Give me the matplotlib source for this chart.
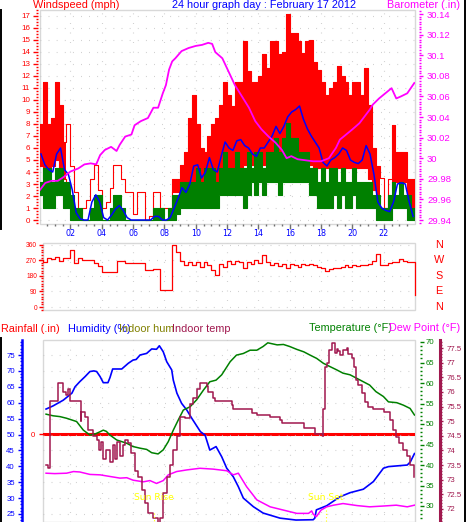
import numpy as np
import matplotlib
matplotlib.use('Agg')
import matplotlib.pyplot as plt
from matplotlib import font_manager
from matplotlib.lines import Line2D
from matplotlib.patches import Rectangle
from matplotlib.transforms import blended_transform_factory
from matplotlib.ticker import FixedLocator, MultipleLocator, FuncFormatter

nan = float('nan')

# ---------------- data ----------------
# wind, 15-minute bins over 24 h (mph)
gust_hi = [8, 11.5, 8, 8.5, 11.5, 9.6, 6.5, 8,
           4.5, 2.3, 0.5, 1, 1.7, 3.4, 4.6, 2.5,
           1, 1.5, 2.7, 4.6, 4.6, 3.4, 2.3, 2.3,
           0.5, 2.3, 2.3, 0, 0.3, 2.3, 2.3, 1,
           1, 1, 3.4, 3.4, 4.6, 5.7, 8.5, 10.4,
           8, 6, 5.7, 7, 8, 8.5, 9.6, 11.5,
           10.4, 9.5, 11.5, 11.5, 14.9, 12.4, 11.5, 11.5,
           12, 13.8, 12.7, 14.9, 14.9, 13.8, 14.0, 17.2,
           15.6, 15.6, 14.9, 13.9, 14.9, 15.0, 13.2, 12.5,
           11.5, 10.4, 11, 11.5, 12.8, 12.0, 11.5, 10.4,
           11.5, 11.5, 10.4, 12.7, 9.6, 6, 4.5, 3.5,
           1, 3.4, 7.9, 5.7, 5.7, 5.7, 3.4, 3.4]
gust_lo = [4.5, 3.4, 4, 4.5, 5, 4, 3.4, 3,
           nan, nan, nan, nan, nan, nan, nan, nan,
           nan, nan, nan, nan, nan, nan, nan, nan,
           nan, nan, nan, nan, nan, nan, nan, nan,
           nan, nan, 2.3, 2.3, 2.3, 2.3, 3.2, 3.2,
           3.2, 3.2, 3.2, 3.2, 3.2, 3.2, 4.0, 4.0,
           4.0, 4.0, 4.0, 4.0, 4.6, 4.6, 4.6, 4.6,
           4.6, 4.6, 4.6, 4.6, 4.6, 4.6, 4.6, 4.6,
           4.6, 4.6, 4.6, 4.6, 4.6, 4.6, 4.3, 4.3,
           4.3, 4.3, 4.3, 4.3, 4.3, 4.3, 4.3, 4.3,
           4.3, 4.3, 4.3, 4.3, 3.4, 2.5, 1.0, 1.0,
           nan, nan, 3.2, 3.2, 3.2, 3.2, 2.1, 0.5]
lull_hi = [3.2, 4.3, 4.3, 3.2, 4.3, 4.3, 3.2, 3.2,
           2.1, 1.0, 1.0, 0, 0, 1.0, 2.1, 2.1,
           0, 0, 1.0, 2.1, 2.1, 1.0, 0, 0,
           0, 0, 0, 0, 0, 1.0, 1.0, 1.0,
           0, 1.0, 2.1, 2.1, 3.2, 3.2, 3.2, 3.2,
           4.3, 3.2, 4.3, 4.3, 4.3, 3.2, 4.3, 5.7,
           4.3, 4.3, 5.7, 4.3, 4.3, 5.7, 4.3, 5.7,
           5.7, 4.3, 5.7, 5.7, 6.8, 5.7, 6.8, 8.1,
           6.8, 6.8, 5.7, 5.7, 5.7, 4.3, 4.3, 3.2,
           4.3, 3.2, 4.3, 4.3, 3.2, 4.3, 3.2, 3.2,
           4.3, 3.2, 3.2, 3.2, 3.2, 2.1, 2.1, 1.0,
           1.0, 2.1, 3.2, 2.1, 3.2, 2.1, 2.1, 1.0]
lull_lo = [2.1, 1.0, 1.0, 1.0, 2.1, 2.1, 1.0, 1.0,
           0, 0, 0, 0, 0, 0, 0, 0,
           0, 0, 0, 0, 0, 0, 0, 0,
           0, 0, 0, 0, 0, 0, 0, 0,
           0, 0, 0, 0.5, 1.0, 1.0, 1.0, 1.0,
           1.0, 1.0, 1.0, 1.0, 1.0, 1.0, 2.1, 2.1,
           2.1, 2.1, 2.1, 2.1, 1.0, 2.1, 3.2, 2.1,
           3.2, 2.1, 3.2, 3.2, 3.2, 2.1, 3.2, 3.2,
           3.2, 3.2, 3.2, 3.2, 3.2, 2.1, 2.1, 1.0,
           1.0, 1.0, 1.0, 2.1, 1.0, 2.1, 1.0, 1.0,
           2.1, 1.0, 1.0, 1.0, 1.0, 1.0, 0, 0,
           0, 0, 1.0, 1.0, 1.0, 1.0, 0, 0]
wind_avg = [5.5, 4.6, 4.2, 4.0, 5.5, 6.0, 4.2, 3.8,
            2.5, 0.6, 0.1, 0, 0, 1.5, 2.1, 1.5,
            0.2, 0, 0.4, 0.9, 1.2, 0.8, 0.2, 0,
            0, 0, 0, 0, 0, 0.3, 0.3, 0,
            0, 0.2, 1.0, 1.8, 2.7, 2.3, 3.0, 4.5,
            4.6, 3.5, 4.0, 5.2, 4.2, 4.0, 5.3, 6.5,
            6.0, 5.8, 6.6, 6.7, 6.2, 6.0, 5.5, 5.3,
            6.0, 6.0, 6.5, 7.0, 7.8, 7.2, 7.8, 8.6,
            9.0, 9.2, 9.5, 8.4, 7.6, 7.0, 6.5, 6.0,
            4.8, 4.5, 5.0, 5.2, 5.5, 6.0, 5.8, 5.0,
            4.8, 4.7, 5.0, 6.2, 5.5, 3.8, 1.5, 1.0,
            0.8, 0.7, 1.5, 3.0, 3.1, 3.0, 1.5, 0.3]

baro_h = [0.0, 0.4, 0.8, 1.2, 1.6, 2.0, 2.5, 2.9, 3.3, 3.65, 3.9, 4.2, 4.6, 4.95,
          5.15, 5.5, 5.9, 6.1, 6.5, 6.95, 7.3, 7.6, 7.9, 8.1, 8.3, 8.5, 8.7, 9.1,
          9.55, 10.0, 10.4, 10.8, 11.05, 11.25, 11.7, 12.1, 12.5, 12.95, 13.4, 13.8,
          14.2, 14.65, 15.1, 15.5, 15.8, 16.1, 16.5, 17.0, 17.5, 18.0, 18.5, 18.95,
          19.2, 19.6, 20.0, 20.45, 20.85, 21.1, 21.3, 21.7, 22.1, 22.5, 22.8, 23.1,
          23.5, 23.95]
baro_v = [29.968, 29.976, 29.978, 29.978, 29.982, 29.987, 29.990, 29.994, 29.995,
          29.994, 30.003, 30.008, 30.011, 30.007, 30.013, 30.021, 30.023, 30.032,
          30.036, 30.039, 30.049, 30.049, 30.063, 30.071, 30.086, 30.094, 30.097,
          30.104, 30.107, 30.109, 30.110, 30.112, 30.111, 30.103, 30.097, 30.084,
          30.071, 30.060, 30.049, 30.036, 30.028, 30.021, 30.015, 30.008, 30.000,
          30.002, 29.999, 29.998, 29.997, 29.997, 30.000, 30.010, 30.018, 30.023,
          30.028, 30.034, 30.042, 30.047, 30.052, 30.058, 30.063, 30.068, 30.058,
          30.060, 30.063, 30.073]

# wind direction, 15-minute bins (degrees) + final reading
wind_dir = [270, 262, 285, 275, 290, 268, 285, 285,
            330, 255, 285, 272, 272, 272, 253, 238,
            200, 200, 200, 200, 265, 268, 253, 253,
            253, 253, 253, 211, 211, 219, 219, 97,
            97, 97, 358, 320, 265, 245, 262, 240,
            258, 230, 262, 240, 215, 185, 250, 230,
            265, 250, 268, 258, 225, 260, 250, 270,
            255, 300, 260, 245, 255, 235, 250, 225,
            250, 240, 232, 248, 242, 250, 240, 230,
            225, 210, 222, 225, 228, 232, 240, 232,
            245, 238, 242, 245, 250, 265, 305, 243,
            243, 255, 262, 258, 275, 268, 262, 260]
wind_dir_last = 72

hum_h = [0.45, 0.9, 1.55, 1.8, 2.1, 2.3, 2.6, 2.94, 3.25, 3.5, 3.68, 3.9, 4.1, 4.4,
         4.53, 4.7, 5.28, 5.7, 6.0, 6.2, 6.45, 6.87, 7.19, 7.5, 7.68, 7.8, 7.93,
         8.15, 8.47, 8.57, 8.8, 9.1, 9.43, 9.75, 10.3, 10.6, 10.9, 11.3, 11.66,
         11.98, 12.4, 12.72, 13.04, 13.68, 14.3, 15.38, 16.4, 17.5, 17.6, 17.7,
         18.36, 19.2, 19.85, 20.7, 21.34, 21.66, 21.98, 22.3, 23.5, 23.7, 23.96]
hum_v = [58.0, 59.0, 60.8, 61.8, 63, 65, 66.6, 68.2, 69.8, 70.0, 69.8, 68.2, 66.3,
         66.3, 67.9, 70.6, 70.6, 72.4, 73.4, 73.6, 75, 75.5, 76.9, 76.8, 77.9, 77.0,
         76.0, 72.9, 70.3, 67.1, 63, 59.8, 57.7, 55.1, 50.9, 49.8, 45.1, 46.2, 43.0,
         39.4, 36.7, 33.6, 30, 27.3, 25.3, 23.7, 23.1, 23.2, 23.7, 26.3, 27.6, 30.4,
         31.7, 32.8, 35.2, 37.3, 39.4, 39.9, 40.4, 41.4, 44]

temp_h = [0.45, 0.9, 1.34, 1.76, 2.4, 2.83, 3.25, 3.6, 3.89, 4.1, 4.3, 4.53, 4.96,
          5.6, 6.0, 6.45, 6.87, 7.19, 7.6, 7.93, 8.25, 8.57, 8.89, 9.21, 9.64,
          10.06, 10.5, 10.9, 11.3, 11.66, 12.2, 12.6, 13.04, 13.47, 13.9, 14.3,
          14.6, 15.2, 15.6, 16.0, 16.45, 16.9, 17.3, 17.72, 18.15, 18.57, 19.0,
          19.4, 19.85, 20.3, 20.7, 21.1, 21.5, 21.98, 22.3, 22.83, 23.25, 23.68, 23.96]
temp_v = [52.4, 52.0, 51.8, 51.4, 50.6, 48.5, 47.3, 47.6, 48.1, 48.5, 48.2, 47.3,
          46.1, 45.3, 44.5, 44.1, 43.8, 43.0, 42.7, 43.7, 45.7, 48.5, 51, 53.4, 54.2,
          55.9, 58.3, 60.3, 60.7, 62, 65.2, 66.8, 67.2, 68.0, 68, 68.9, 69.8, 69.3,
          69.4, 68.9, 68.2, 67.6, 66.8, 66.0, 64.8, 64.0, 63.2, 62.4, 62.0, 61.1,
          60.3, 59.5, 57.9, 56.7, 55.4, 55.2, 54.6, 53.8, 52.2]

dew_h = [0.45, 1.0, 1.76, 2.2, 2.6, 3.25, 3.9, 4.53, 5.17, 5.6, 6.0, 6.66, 7.08,
         7.5, 7.93, 8.25, 8.78, 9.43, 10.27, 11.1, 11.98, 12.4, 12.72, 13.25, 13.9,
         14.75, 15.6, 16.45, 17.2, 17.4, 17.5, 17.7, 18.0, 18.36, 18.8, 19.4, 20.3,
         21.1, 22.0, 22.8, 23.5, 23.96]
dew_v = [38.0, 37.9, 38.0, 38.4, 38.3, 37.7, 37.6, 37.2, 36.8, 36.9, 36.3, 35.9,
         36.2, 35.5, 36.2, 37.6, 38.4, 38.8, 39.2, 39.0, 38.6, 37.6, 38.0, 34.7,
         31.5, 29.8, 29.0, 28.2, 28.2, 28.8, 28.0, 27.4, 29.0, 29.8, 30.2, 30.6,
         30.1, 29.8, 30.0, 30.2, 29.8, 30.2]

itemp_h = [0.45, 0.6, 0.68, 0.9, 1.2, 1.45, 1.5, 1.7, 1.85, 2.0, 2.6, 2.65, 2.7,
           2.94, 3.1, 3.46, 3.68, 3.8, 3.95, 4.1, 4.3, 4.5, 4.7, 4.85, 5.0, 5.2,
           5.35, 5.5, 5.7, 5.9, 6.1, 6.3, 6.55, 6.76, 6.98, 7.3, 7.6, 7.72, 7.93,
           8.15, 8.36, 8.57, 8.78, 9.0, 9.3, 9.64, 9.85, 10.06, 10.3, 10.6, 10.7,
           10.8, 11.1, 11.2, 12.2, 12.3, 12.4, 13.5, 13.6, 13.9, 14.75, 15.4, 15.5,
           16.8, 16.9, 17.5, 17.6, 18.1, 18.15, 18.25, 18.36, 18.5, 18.68, 18.8,
           18.9, 19.0, 19.1, 19.2, 19.4, 19.64, 19.74, 19.95, 20.1, 20.23, 20.38,
           20.6, 20.8, 21.0, 21.3, 21.8, 22.0, 22.4, 22.6, 22.8, 23.0, 23.25, 23.47,
           23.68, 23.96]
itemp_v = [73.5, 73.4, 75.7, 75.7, 76.3, 76.3, 76.0, 75.9, 76.1, 75.7, 75.7, 75.0,
           75.3, 75.15, 74.7, 74.5, 74.36, 74.0, 74.3, 73.7, 74.0, 73.6, 74.2, 73.7,
           74.3, 73.8, 74.2, 74.36, 74.25, 73.9, 73.3, 73.1, 72.65, 72.2, 71.85,
           71.7, 71.5, 71.7, 72.55, 73.1, 73.5, 74.0, 74.5, 75.15, 75.1, 75.6, 75.8,
           76.1, 76.3, 76.3, 76.2, 76.0, 75.8, 75.7, 75.7, 75.55, 75.4, 75.4, 75.27,
           75.2, 75.15, 75.04, 74.93, 74.93, 74.76, 74.76, 74.55, 74.5, 75.4, 76.86,
           77.0, 77.43, 77.66, 77.66, 77.32, 77.45, 77.4, 77.26, 77.43, 77.5, 77.3,
           77.15, 76.86, 76.4, 76.24, 75.95, 75.66, 75.5, 75.4, 75.4, 75.3, 75.04,
           74.7, 74.47, 74.25, 74.0, 73.8, 73.5, 73.1]

rain_h = [0.25, 24.0]
rain_v = [0.0, 0.0]

sunrise_h = 7.34
sunset_h = 18.3

wind_ticks = list(range(0, 18))
baro_ticks = [29.94, 29.96, 29.98, 30.00, 30.02, 30.04, 30.06, 30.08, 30.10, 30.12, 30.14]
dir_ticks = [0, 90, 180, 270, 360]
dir_letters = ['N', 'E', 'S', 'W', 'N']
hour_ticks = [2, 4, 6, 8, 10, 12, 14, 16, 18, 20, 22, 24]
hour_labels = ['02', '04', '06', '08', '10', '12', '14', '16', '18', '20', '22', '00']
hum_ticks = [25, 30, 35, 40, 45, 50, 55, 60, 65, 70, 75]
temp_ticks = [30, 35, 40, 45, 50, 55, 60, 65, 70]
itemp_ticks = [72, 72.5, 73, 73.5, 74, 74.5, 75, 75.5, 76, 76.5, 77, 77.5]

# ---------------- styling ----------------
RED = '#ff0000'
BLUE = '#0000ff'
GREEN = '#008000'
MAG = '#ff00ff'
MAROON = '#a0184e'
OLIVE = '#808000'
YELLOW = '#ffff00'
GRIDC = '#c4c4c4'
BORDER = '#d8d8d8'

W, H, DPI = 466, 522, 100
PT = 72.0 / DPI          # points per pixel
names = {f.name for f in font_manager.fontManager.ttflist}
if 'Liberation Sans Narrow' in names:
    TFONT, TSIZE = 'Liberation Sans Narrow', 9.0
else:
    TFONT, TSIZE = 'Liberation Sans', 7.8
SANS = 'Liberation Sans'
plt.rcParams['font.family'] = [SANS, 'DejaVu Sans']

fig = plt.figure(figsize=(W / DPI, H / DPI), dpi=DPI)
fig.patch.set_facecolor('white')

X0, PXH = 39.0, 15.67


def hx(px):
    return (px - X0) / PXH


def rect(l, t, r, b):
    return [l / W, 1 - b / H, (r - l) / W, (b - t) / H]


def fy(py):
    return 1 - py / H


def add_border(ax):
    ax.add_patch(Rectangle((0, 0), 1, 1, transform=ax.transAxes, fill=False,
                           ec=BORDER, lw=1.0, clip_on=False, zorder=0.5))


def hide_spines(ax):
    for s in ax.spines.values():
        s.set_visible(False)


def ext(a):
    a = np.asarray(a, float)
    return np.append(a, a[-1])


def yticks(ax, color, major_len, minor_len, pad, size):
    ax.tick_params(axis='y', which='major', colors=color, length=major_len * PT,
                   width=1, pad=pad * PT, labelsize=size)
    ax.tick_params(axis='y', which='minor', colors=color, length=minor_len * PT,
                   width=1)


dotted_h = (0, (0.7, 6.6))
dotted_v = (0, (0.7, 7.9))

# ---------------- top panel: wind + barometer ----------------
ax_w = fig.add_axes(rect(40, 10, 415, 224))
ax_w.set_xlim(hx(40), hx(415))
ax_w.set_ylim(-1 / 3, 17.5)
hide_spines(ax_w)
ax_w.spines['left'].set_position(('outward', 2 * PT))
add_border(ax_w)
ax_w.yaxis.set_major_locator(FixedLocator(wind_ticks))
ax_w.yaxis.set_minor_locator(MultipleLocator(0.25))
yticks(ax_w, RED, 5, 2, 3, 5.8)
ax_w.xaxis.set_major_locator(MultipleLocator(2))
ax_w.xaxis.set_minor_locator(MultipleLocator(0.5))
ax_w.tick_params(axis='x', which='major', colors='#707070', length=5 * PT, width=1,
                 labelbottom=False)
ax_w.tick_params(axis='x', which='minor', colors='#707070', length=2.5 * PT, width=1)
ax_w.yaxis.grid(True, color=GRIDC, linestyle=dotted_h, lw=0.8)
ax_w.xaxis.grid(True, color=GRIDC, linestyle=dotted_v, lw=0.8)
ax_w.set_axisbelow(True)

edges = np.arange(len(gust_hi) + 1) * 0.25
centers = edges[:-1] + 0.125
ax_w.fill_between(edges, ext(gust_lo), ext(gust_hi), step='post', color=RED, lw=0, zorder=2)
ax_w.step(edges, ext(gust_hi), where='post', color=RED, lw=0.8, zorder=2)
ax_w.step(edges, ext(gust_lo), where='post', color=RED, lw=0.8, zorder=2)
ax_w.fill_between(edges, ext(lull_lo), ext(lull_hi), step='post', color=GREEN, lw=0, zorder=3)
ax_w.step(edges, ext(lull_hi), where='post', color=GREEN, lw=0.8, zorder=3)
ax_w.step(edges, ext(lull_lo), where='post', color=GREEN, lw=0.8, zorder=3)
ax_w.plot(centers, wind_avg, color=BLUE, lw=1.1, zorder=4)

ax_b = ax_w.twinx()
hide_spines(ax_b)
ax_b.spines['right'].set_position(('outward', 4 * PT))
ax_b.set_ylim(29.94 - 4 / 1030, 30.14 + 4 / 1030)
ax_b.yaxis.set_major_locator(FixedLocator(baro_ticks))
ax_b.yaxis.set_minor_locator(MultipleLocator(0.0025))
ax_b.yaxis.set_major_formatter(FuncFormatter(
    lambda v, _: ('%.2f' % v).rstrip('0').rstrip('.')))
yticks(ax_b, MAG, 4, 2, 4, 6.8)
ax_b.plot(baro_h, baro_v, color=MAG, lw=1.3, zorder=5)

fig.text(33 / W, fy(8.5), 'Windspeed (mph)', color=RED, family=TFONT, size=TSIZE,
         va='baseline', ha='left')
fig.text(172 / W, fy(8.5), '24 hour graph day : February 17 2012', color=BLUE,
         family=TFONT, size=TSIZE, va='baseline', ha='left')
fig.text(460 / W, fy(8.5), 'Barometer (.in)', color=MAG, family=TFONT, size=TSIZE,
         va='baseline', ha='right')

# ---------------- direction panel ----------------
ax_d = fig.add_axes(rect(43, 243, 415, 310))
ax_d.set_xlim(hx(43), hx(415))
ax_d.set_ylim(-17.3, 369.8)
hide_spines(ax_d)
add_border(ax_d)
ax_d.yaxis.set_major_locator(FixedLocator(dir_ticks))
ax_d.yaxis.set_minor_locator(MultipleLocator(15))
yticks(ax_d, RED, 4, 2, 2, 4.8)
ax_d.xaxis.tick_top()
ax_d.xaxis.set_major_locator(FixedLocator(hour_ticks))
ax_d.set_xticklabels(hour_labels, family='DejaVu Sans')
ax_d.tick_params(axis='x', which='major', length=0, pad=5 * PT, labelsize=5.8,
                 labelcolor=BLUE)
ax_d.yaxis.grid(True, color=GRIDC, linestyle=dotted_h, lw=0.8)
ax_d.xaxis.grid(True, color=GRIDC, linestyle=dotted_v, lw=0.8)
ax_d.set_axisbelow(True)
dir_x = np.append(edges[:-1], 24.0)
dir_y = np.append(np.asarray(wind_dir, float), wind_dir_last)
ax_d.step(dir_x, dir_y, where='post', color=RED, lw=0.9, zorder=3, clip_on=False)
letter_tr = blended_transform_factory(fig.transFigure, ax_d.transData)
for deg, letter in zip(dir_ticks, dir_letters):
    ax_d.text(439 / W, deg, letter, color=RED, family=TFONT, size=TSIZE,
              ha='center', va='center', transform=letter_tr)

# ---------------- bottom panel ----------------
ax_r = fig.add_axes(rect(43, 340, 415, 522))
ax_r.set_xlim(hx(43), hx(415))
ax_r.set_ylim(-0.4835, 0.5165)
hide_spines(ax_r)
add_border(ax_r)
ax_r.yaxis.set_major_locator(FixedLocator([0]))
yticks(ax_r, RED, 4, 2, 4, 5.6)
ax_r.xaxis.set_major_locator(MultipleLocator(2))
ax_r.tick_params(axis='x', which='both', length=0, labelbottom=False)
ax_r.xaxis.grid(True, color=GRIDC, linestyle=dotted_v, lw=0.8)
ax_r.set_axisbelow(True)
ax_r.plot(rain_h, rain_v, color=RED, lw=2.2, zorder=2)

ax_h = ax_r.twinx()
hide_spines(ax_h)
ax_h.yaxis.tick_left()
ax_h.spines['left'].set_visible(True)
ax_h.spines['left'].set_position(('outward', 21 * PT))
ax_h.spines['left'].set_color(BLUE)
ax_h.spines['left'].set_linewidth(1.8)
ax_h.set_ylim(25 - 8 / 3.18, 75 + 15 / 3.18)
ax_h.yaxis.set_major_locator(FixedLocator(hum_ticks))
ax_h.yaxis.set_minor_locator(MultipleLocator(1))
yticks(ax_h, BLUE, 4, 2, 3, 5.6)
ax_h.yaxis.grid(True, color=GRIDC, linestyle=dotted_h, lw=0.8, zorder=0)
ax_h.set_axisbelow(True)
ax_h.plot(hum_h, hum_v, color=BLUE, lw=1.2, zorder=3)

ax_t = ax_r.twinx()
hide_spines(ax_t)
ax_t.spines['right'].set_position(('outward', 5 * PT))
ax_t.set_ylim(30 - 16 / 4.1, 70 + 2 / 4.1)
ax_t.yaxis.set_major_locator(FixedLocator(temp_ticks))
ax_t.yaxis.set_minor_locator(MultipleLocator(1))
yticks(ax_t, GREEN, 4, 2, 2, 5.6)
ax_t.plot(dew_h, dew_v, color=MAG, lw=1.1, zorder=3)
ax_t.plot(temp_h, temp_v, color=GREEN, lw=1.1, zorder=3)

ax_i = ax_r.twinx()
hide_spines(ax_i)
ax_i.spines['right'].set_visible(True)
ax_i.spines['right'].set_position(('outward', 25 * PT))
ax_i.spines['right'].set_color(MAROON)
ax_i.spines['right'].set_linewidth(2.2)
ax_i.set_ylim(72 - 13 / 29.27, 77.5 + 8 / 29.27)
ax_i.yaxis.set_major_locator(FixedLocator(itemp_ticks))
ax_i.yaxis.set_minor_locator(MultipleLocator(0.1))
ax_i.yaxis.set_major_formatter(FuncFormatter(lambda v, _: '%g' % round(v, 1)))
yticks(ax_i, MAROON, 3, 1.5, 3.5, 5.6)
ax_i.plot(itemp_h, itemp_v, color=MAROON, lw=1.1, zorder=3, drawstyle='steps-post')

# sunrise / sunset
for hh, lab, ytop in [(sunrise_h, 'Sun Rise', 513), (sunset_h, 'Sun Set', 510)]:
    xf = (X0 + hh * PXH) / W
    fig.text(xf, fy(497.5), lab, color=YELLOW, size=6.6, family='DejaVu Sans',
             ha='center', va='center')
    fig.add_artist(Line2D([xf, xf], [fy(ytop), fy(522)], color=YELLOW, lw=0.8,
                          linestyle=(0, (1, 2)), transform=fig.transFigure))

fig.text(1 / W, fy(331.5), 'Rainfall (.in)', color=RED, family=TFONT, size=TSIZE,
         va='baseline', ha='left')
fig.text(68 / W, fy(331.5), 'Humidity (%)', color=BLUE, family=TFONT, size=TSIZE,
         va='baseline', ha='left')
fig.text(119 / W, fy(331.5), 'Indoor hum', color=OLIVE, family=TFONT, size=TSIZE,
         va='baseline', ha='left')
fig.text(172 / W, fy(331.5), 'Indoor temp', color=MAROON, family=TFONT, size=TSIZE,
         va='baseline', ha='left')
fig.text(392 / W, fy(331), 'Temperature (°F)', color=GREEN, family=TFONT, size=TSIZE,
         va='baseline', ha='right')
fig.text(460 / W, fy(331), 'Dew Point (°F)', color=MAG, family=TFONT, size=TSIZE,
         va='baseline', ha='right')

# black frame edges
for (x, t, b) in [(0.8, 10, 229), (465.2, 0, 522), (0.8, 338, 522)]:
    fig.add_artist(Line2D([x / W, x / W], [fy(t), fy(b)], color='black', lw=1.4,
                          transform=fig.transFigure))

fig.savefig('out.png', dpi=DPI)
